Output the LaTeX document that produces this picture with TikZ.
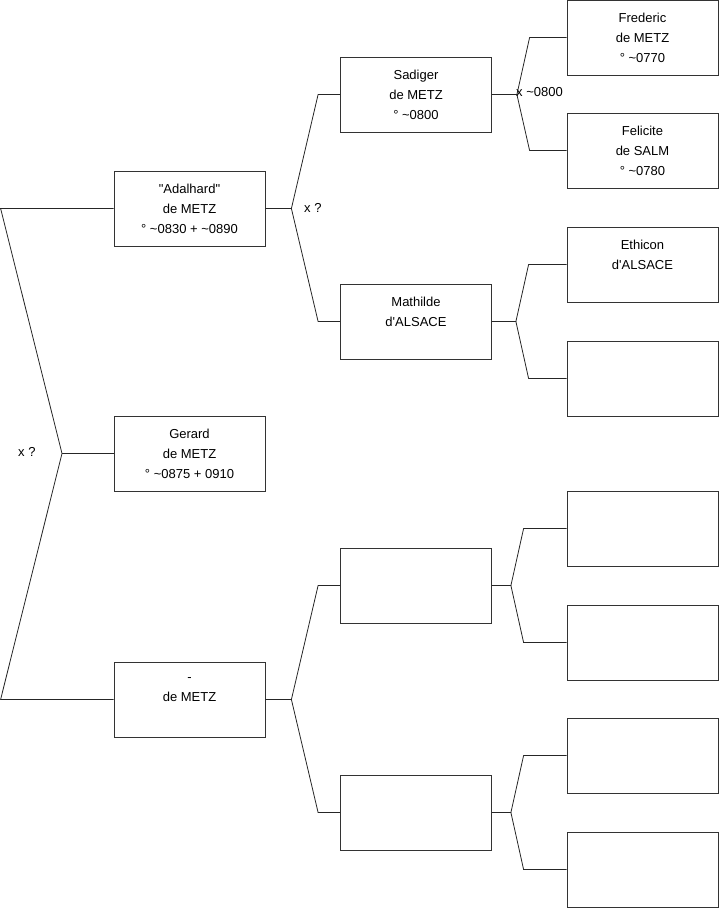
\documentclass[tikz,border=0pt]{standalone}
\usepackage{fontspec}
\setmainfont{Liberation Sans}[Ligatures=TeXOff]
\usetikzlibrary{calc}
\begin{document}
\begin{tikzpicture}[x=1pt,y=-1pt,
  pbox/.style={draw=black!80, line width=0.8pt, fill=white, minimum width=151pt, minimum height=75pt, inner sep=0pt, align=center, font=\fontsize{13}{20}\selectfont, text=black},
  conn/.style={draw=black!85, line width=0.8pt},
  lbl/.style={font=\fontsize{13}{15}\selectfont, inner sep=0pt}]
\useasboundingbox (0,0) rectangle (719,908);
\newcommand{\tl}{\textasciitilde}
% column 1
\node[pbox] (a1) at (189.5,208.5) {"Adalhard"\\de METZ\\° \tl0830 + \tl0890};
\node[pbox] (a2) at (189.5,453.5) {Gerard\\de METZ\\° \tl0875 + 0910};
\node[pbox] (a3) at (189.5,699.5) {-\\de METZ\\\phantom{0}};
% column 2
\node[pbox] (b1) at (416,94.5) {Sadiger\\de METZ\\° \tl0800};
\node[pbox] (b2) at (416,321.5) {Mathilde\\d'ALSACE\\\phantom{0}};
\node[pbox] (b3) at (416,585.5) {};
\node[pbox] (b4) at (416,812.5) {};
% column 3
\node[pbox] (c1) at (642.5,37.5) {Frederic\\de METZ\\° \tl0770};
\node[pbox] (c2) at (642.5,150.5) {Felicite\\de SALM\\° \tl0780};
\node[pbox] (c3) at (642.5,264.5) {Ethicon\\d'ALSACE\\\phantom{0}};
\node[pbox] (c4) at (642.5,378.5) {};
\node[pbox] (c5) at (642.5,528.5) {};
\node[pbox] (c6) at (642.5,642.5) {};
\node[pbox] (c7) at (642.5,755.5) {};
\node[pbox] (c8) at (642.5,869.5) {};
% left bracket
\coordinate (L) at (62,453.5);
\draw[conn] (a1.west) -- ++(-113,0) -- (L) -- ($(a3.west)+(-113,0)$) -- (a3.west);
\draw[conn] (L) -- (a2.west);
\node[lbl, anchor=west] (xl) at (18,451.5) {x ?};
% col1 -> col2
\draw[conn] (a1.east) -- ++(26,0) coordinate (j1) -- ($(b1.west)+(-22,0)$) -- (b1.west);
\draw[conn] (j1) -- ($(b2.west)+(-22,0)$) -- (b2.west);
\node[lbl, anchor=west] (xa1) at (304,207.5) {x ?};
\draw[conn] (a3.east) -- ++(26,0) coordinate (j3) -- ($(b3.west)+(-22,0)$) -- (b3.west);
\draw[conn] (j3) -- ($(b4.west)+(-22,0)$) -- (b4.west);
% col2 -> col3
\draw[conn] (b1.east) -- ++(25,0) coordinate (k1) -- ($(c1.west)+(-37,0)$) -- (c1.west);
\draw[conn] (k1) -- ($(c2.west)+(-37,0)$) -- (c2.west);
\node[lbl, anchor=west] (xb1) at (516,92.5) {x \tl0800};
\draw[conn] (b2.east) -- ++(24,0) coordinate (k2) -- ($(c3.west)+(-38,0)$) -- (c3.west);
\draw[conn] (k2) -- ($(c4.west)+(-38,0)$) -- (c4.west);
\draw[conn] (b3.east) -- ++(19,0) coordinate (k3) -- ($(c5.west)+(-43,0)$) -- (c5.west);
\draw[conn] (k3) -- ($(c6.west)+(-43,0)$) -- (c6.west);
\draw[conn] (b4.east) -- ++(19,0) coordinate (k4) -- ($(c7.west)+(-43,0)$) -- (c7.west);
\draw[conn] (k4) -- ($(c8.west)+(-43,0)$) -- (c8.west);
\end{tikzpicture}
\end{document}
